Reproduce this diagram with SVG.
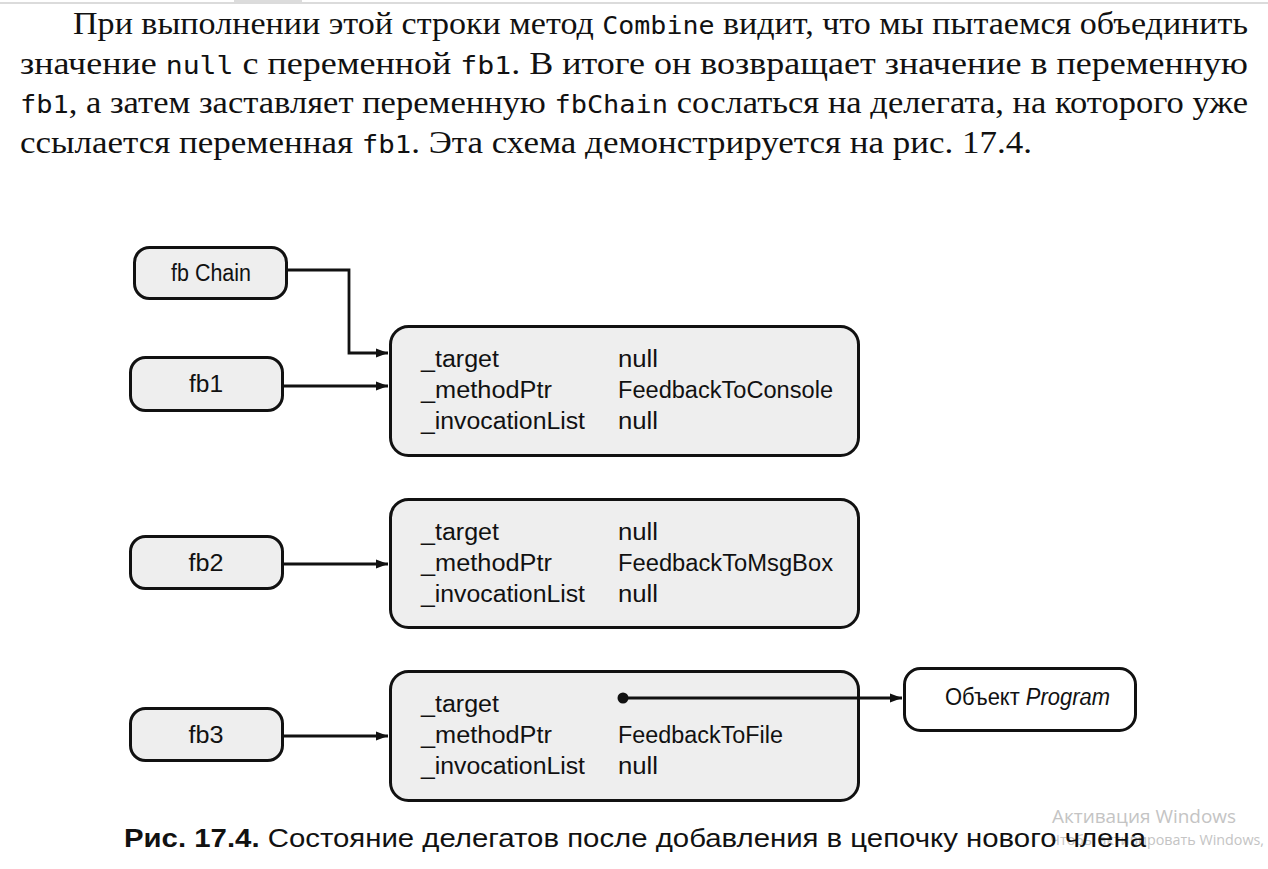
<svg xmlns="http://www.w3.org/2000/svg" width="1268" height="869" viewBox="0 0 1268 869">
<defs>
<style>
.body{font-family:"Liberation Serif","DejaVu Serif",serif;font-size:32px;fill:#111}
.mono{font-family:"DejaVu Sans Mono","Liberation Mono",monospace;font-size:25px}
.node{fill:#eeeeee;stroke:#111;stroke-width:3}
.nodew{fill:#ffffff;stroke:#111;stroke-width:3}
.lbl{font-family:"Liberation Sans","Arial",sans-serif;font-size:23px;fill:#111}
.cell{font-family:"Liberation Sans","Arial",sans-serif;font-size:23px;fill:#111}
.conn{fill:none;stroke:#111;stroke-width:2.8}
.cap{font-family:"Liberation Sans","Arial",sans-serif;font-size:25px;fill:#111}
.wm{font-family:"Open Sans","Liberation Sans",sans-serif;fill:#c4c4c4}
</style>
<marker id="arr" viewBox="0 0 12 10" refX="12" refY="5" markerWidth="12" markerHeight="10" markerUnits="userSpaceOnUse" orient="auto">
<path d="M0,0.5 L12,5 L0,9.5 Z" fill="#111"/>
</marker>
</defs>
<rect width="1268" height="869" fill="#fff"/>
<line x1="0" y1="3" x2="1268" y2="3" stroke="#cfcfcf" stroke-width="1.5"/>
<rect x="234" y="0" width="68" height="2" fill="#dcdcdc"/>

<g id="paragraph">
<text class="body" x="73" y="34" textLength="1175" lengthAdjust="spacingAndGlyphs">При выполнении этой строки метод <tspan class="mono">Combine</tspan> видит, что мы пытаемся объединить</text>
<text class="body" x="20" y="74" textLength="1228" lengthAdjust="spacingAndGlyphs">значение <tspan class="mono">null</tspan> с переменной <tspan class="mono">fb1</tspan>. В итоге он возвращает значение в переменную</text>
<text class="body" x="20" y="113" textLength="1228" lengthAdjust="spacingAndGlyphs"><tspan class="mono">fb1</tspan>, а затем заставляет переменную <tspan class="mono">fbChain</tspan> сослаться на делегата, на которого уже</text>
<text class="body" x="20" y="153" textLength="1012" lengthAdjust="spacingAndGlyphs">ссылается переменная <tspan class="mono">fb1</tspan>. Эта схема демонстрируется на рис. 17.4.</text>
</g>

<g id="fbChain">
<rect class="node" x="134.5" y="247.5" width="152" height="51" rx="15"/>
<text class="lbl" x="211" y="281" text-anchor="middle" textLength="80" lengthAdjust="spacingAndGlyphs">fb Chain</text>
</g>
<g id="fb1">
<rect class="node" x="130.5" y="357.5" width="152" height="53" rx="15"/>
<text class="lbl" x="206" y="392" text-anchor="middle" textLength="34" lengthAdjust="spacingAndGlyphs">fb1</text>
</g>
<g id="fb2">
<rect class="node" x="130.5" y="536.5" width="152" height="52" rx="15"/>
<text class="lbl" x="206" y="571" text-anchor="middle" textLength="35" lengthAdjust="spacingAndGlyphs">fb2</text>
</g>
<g id="fb3">
<rect class="node" x="130.5" y="708.5" width="152" height="52" rx="15"/>
<text class="lbl" x="206" y="743" text-anchor="middle" textLength="35" lengthAdjust="spacingAndGlyphs">fb3</text>
</g>

<g id="delegate1">
<rect class="node" x="390.5" y="326.5" width="468" height="129" rx="18"/>
<text class="cell" x="421" y="367" textLength="78" lengthAdjust="spacingAndGlyphs">_target</text>
<text class="cell" x="421" y="398" textLength="131" lengthAdjust="spacingAndGlyphs">_methodPtr</text>
<text class="cell" x="421" y="429" textLength="164" lengthAdjust="spacingAndGlyphs">_invocationList</text>
<text class="cell" x="618" y="367" textLength="40" lengthAdjust="spacingAndGlyphs">null</text>
<text class="cell" x="618" y="398" textLength="215" lengthAdjust="spacingAndGlyphs">FeedbackToConsole</text>
<text class="cell" x="618" y="429" textLength="40" lengthAdjust="spacingAndGlyphs">null</text>
</g>

<g id="delegate2">
<rect class="node" x="390.5" y="499.5" width="468" height="128" rx="18"/>
<text class="cell" x="421" y="540" textLength="78" lengthAdjust="spacingAndGlyphs">_target</text>
<text class="cell" x="421" y="571" textLength="131" lengthAdjust="spacingAndGlyphs">_methodPtr</text>
<text class="cell" x="421" y="602" textLength="164" lengthAdjust="spacingAndGlyphs">_invocationList</text>
<text class="cell" x="618" y="540" textLength="40" lengthAdjust="spacingAndGlyphs">null</text>
<text class="cell" x="618" y="571" textLength="215" lengthAdjust="spacingAndGlyphs">FeedbackToMsgBox</text>
<text class="cell" x="618" y="602" textLength="40" lengthAdjust="spacingAndGlyphs">null</text>
</g>

<g id="delegate3">
<rect class="node" x="390.5" y="671.5" width="468" height="129" rx="18"/>
<text class="cell" x="421" y="712" textLength="78" lengthAdjust="spacingAndGlyphs">_target</text>
<text class="cell" x="421" y="743" textLength="131" lengthAdjust="spacingAndGlyphs">_methodPtr</text>
<text class="cell" x="421" y="774" textLength="164" lengthAdjust="spacingAndGlyphs">_invocationList</text>
<text class="cell" x="618" y="743" textLength="165" lengthAdjust="spacingAndGlyphs">FeedbackToFile</text>
<text class="cell" x="618" y="774" textLength="40" lengthAdjust="spacingAndGlyphs">null</text>
</g>

<g id="program">
<rect class="nodew" x="904.5" y="668.5" width="231" height="62" rx="16"/>
<text class="lbl" x="945" y="705" textLength="165" lengthAdjust="spacingAndGlyphs">Объект <tspan font-style="italic">Program</tspan></text>
</g>

<g id="connectors">
<path class="conn" d="M287,270 H349 V353 H388" marker-end="url(#arr)"/>
<path class="conn" d="M283,386 H388" marker-end="url(#arr)"/>
<path class="conn" d="M283,564 H388" marker-end="url(#arr)"/>
<path class="conn" d="M283,736 H388" marker-end="url(#arr)"/>
<circle cx="623" cy="698" r="5.5" fill="#111"/>
<path class="conn" d="M623,698 H902" marker-end="url(#arr)"/>
</g>

<g id="watermark">
<text class="wm" x="1052" y="823" font-size="19" textLength="184" lengthAdjust="spacingAndGlyphs">Активация Windows</text>
<text class="wm" x="1050" y="845" font-size="14.5" textLength="214" lengthAdjust="spacingAndGlyphs">Чтобы активировать Windows,</text>
</g>

<g id="caption">
<text class="cap" x="124" y="847" textLength="1022" lengthAdjust="spacingAndGlyphs"><tspan font-weight="bold">Рис. 17.4.</tspan> Состояние делегатов после добавления в цепочку нового члена</text>
</g>
</svg>
